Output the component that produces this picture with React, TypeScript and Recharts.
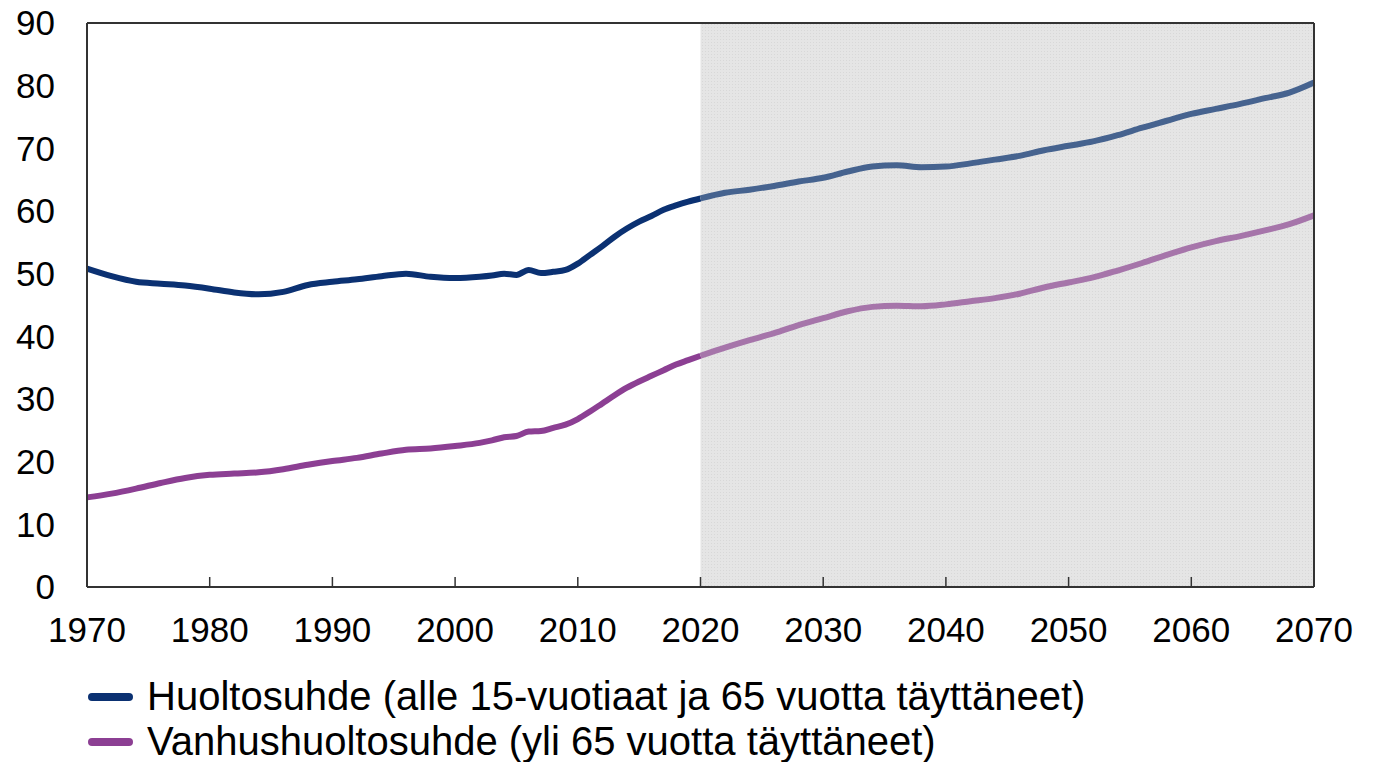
import {
  CartesianGrid,
  Legend,
  Line,
  LineChart,
  ReferenceArea,
  ReferenceLine,
  XAxis,
  YAxis,
} from 'recharts'

const years = [
  1970, 1972, 1974, 1976, 1978, 1980, 1982, 1984, 1986, 1988, 1990, 1992, 1994,
  1996, 1998, 2000, 2002, 2003, 2004, 2005, 2006, 2007, 2008, 2009, 2010, 2011,
  2012, 2013, 2014, 2015, 2016, 2017, 2018, 2019, 2020, 2022, 2024, 2026, 2028,
  2030, 2032, 2034, 2036, 2038, 2040, 2042, 2044, 2046, 2048, 2050, 2052, 2054,
  2056, 2058, 2060, 2062, 2064, 2066, 2068, 2070,
]

// Huoltosuhde (alle 15-vuotiaat ja 65 vuotta täyttäneet)
const huoltosuhde = [
  50.8, 49.6, 48.7, 48.4, 48.1, 47.6, 47.0, 46.7, 47.1, 48.2, 48.7, 49.1, 49.6,
  50.0, 49.5, 49.3, 49.5, 49.7, 50.0, 49.8, 50.6, 50.1, 50.3, 50.6, 51.6, 53.0,
  54.4, 55.9, 57.2, 58.3, 59.2, 60.2, 60.9, 61.5, 62.0, 62.9, 63.4, 64.0, 64.7,
  65.3, 66.3, 67.1, 67.3, 67.0, 67.1, 67.6, 68.2, 68.8, 69.7, 70.4, 71.1, 72.1,
  73.3, 74.4, 75.5, 76.3, 77.1, 78.0, 78.9, 80.5,
]

// Vanhushuoltosuhde (yli 65 vuotta täyttäneet)
const vanhushuoltosuhde = [
  14.3, 14.9, 15.7, 16.6, 17.4, 17.9, 18.1, 18.3, 18.8, 19.5, 20.1, 20.6, 21.3,
  21.9, 22.1, 22.5, 23.0, 23.4, 23.9, 24.1, 24.8, 24.9, 25.4, 25.9, 26.8, 28.0,
  29.3, 30.6, 31.8, 32.8, 33.7, 34.6, 35.5, 36.2, 36.9, 38.2, 39.4, 40.5, 41.8,
  42.9, 44.0, 44.7, 44.9, 44.8, 45.1, 45.6, 46.1, 46.8, 47.8, 48.6, 49.4, 50.5,
  51.7, 53.0, 54.2, 55.2, 56.0, 56.9, 57.9, 59.3,
]

const seriesNames = [
  'Huoltosuhde (alle 15-vuotiaat ja 65 vuotta täyttäneet)',
  'Vanhushuoltosuhde (yli 65 vuotta täyttäneet)',
]

const xTicks = [1970, 1980, 1990, 2000, 2010, 2020, 2030, 2040, 2050, 2060, 2070]
const yTicks = [0, 10, 20, 30, 40, 50, 60, 70, 80, 90]
const forecastStart = 2020
const forecastEnd = 2070

const NAVY = '#0b3172'
const NAVY_FC = '#46638f'
const PURPLE = '#8c3f93'
const PURPLE_FC = '#a675aa'
const FONT = '"Liberation Sans", Arial, sans-serif'

const data = years.map((year, i) => ({
  year,
  hHist: year <= forecastStart ? huoltosuhde[i] : null,
  hFc: year >= forecastStart ? huoltosuhde[i] : null,
  vHist: year <= forecastStart ? vanhushuoltosuhde[i] : null,
  vFc: year >= forecastStart ? vanhushuoltosuhde[i] : null,
}))

const tickStyle = { fill: '#000', fontSize: 35, fontFamily: FONT }

function ChartLegend() {
  const colors = [NAVY, PURPLE]
  return (
    <div
      style={{
        height: 100,
        boxSizing: 'border-box',
        paddingTop: 14,
        paddingLeft: 88,
        fontFamily: FONT,
        fontSize: 40,
        color: '#000',
      }}
    >
      {seriesNames.map((name, i) => (
        <div
          key={name}
          style={{ display: 'flex', alignItems: 'center', height: 45, whiteSpace: 'nowrap' }}
        >
          <svg width={45} height={10} style={{ marginRight: 14 }}>
            <line
              x1={4}
              y1={5}
              x2={41}
              y2={5}
              stroke={colors[i]}
              strokeWidth={8}
              strokeLinecap="round"
            />
          </svg>
          <span>{name}</span>
        </div>
      ))}
    </div>
  )
}

export default function App() {
  return (
    <div style={{ position: 'absolute', left: 0, top: 0 }}>
      <LineChart
        width={1390}
        height={762}
        data={data}
        margin={{ top: 23, right: 0, left: 0, bottom: 2 }}
      >
        <defs>
          <pattern id="dots" width="3" height="3" patternUnits="userSpaceOnUse">
            <rect width="3" height="3" fill="#000" fillOpacity={0.1} />
            <rect width="1" height="1" fill="#000" fillOpacity={0.06} />
          </pattern>
        </defs>
        <CartesianGrid vertical={false} stroke="#b4b4b4" strokeWidth={1.3} />
        <ReferenceArea
          x1={forecastStart}
          x2={forecastEnd}
          yAxisId="left"
          fill="url(#dots)"
          fillOpacity={1}
          stroke="none"
          ifOverflow="hidden"
        />
        <ReferenceLine y={90} yAxisId="left" stroke="#333" strokeWidth={2} />
        <XAxis
          dataKey="year"
          type="number"
          domain={[1970, 2070]}
          ticks={xTicks}
          height={73}
          tick={tickStyle}
          tickSize={-10}
          tickMargin={40}
          tickLine={{ stroke: '#333', strokeWidth: 1.5 }}
          axisLine={{ stroke: '#333', strokeWidth: 2 }}
        />
        <YAxis
          yAxisId="left"
          domain={[0, 90]}
          ticks={yTicks}
          width={87}
          tick={tickStyle}
          tickLine={false}
          tickSize={0}
          tickMargin={32}
          axisLine={{ stroke: '#333', strokeWidth: 2 }}
        />
        <YAxis
          yAxisId="right"
          orientation="right"
          domain={[0, 90]}
          ticks={yTicks}
          width={76}
          tick={tickStyle}
          tickLine={false}
          tickSize={0}
          tickMargin={32}
          axisLine={{ stroke: '#333', strokeWidth: 2 }}
        />
        <Legend verticalAlign="bottom" align="left" content={() => <ChartLegend />} />
        <Line
          yAxisId="left"
          dataKey="hHist"
          type="monotone"
          stroke={NAVY}
          strokeWidth={6}
          dot={false}
          isAnimationActive={false}
        />
        <Line
          yAxisId="left"
          dataKey="hFc"
          type="monotone"
          stroke={NAVY_FC}
          strokeWidth={6}
          dot={false}
          legendType="none"
          isAnimationActive={false}
        />
        <Line
          yAxisId="left"
          dataKey="vHist"
          type="monotone"
          stroke={PURPLE}
          strokeWidth={6}
          dot={false}
          isAnimationActive={false}
        />
        <Line
          yAxisId="left"
          dataKey="vFc"
          type="monotone"
          stroke={PURPLE_FC}
          strokeWidth={6}
          dot={false}
          legendType="none"
          isAnimationActive={false}
        />
      </LineChart>
    </div>
  )
}
